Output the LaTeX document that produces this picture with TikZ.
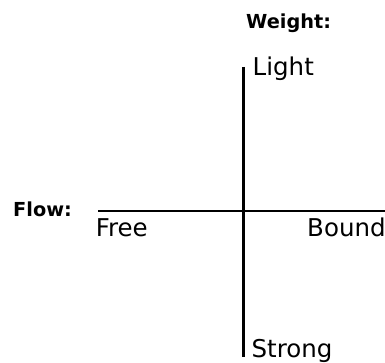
\documentclass[tikz,border=0pt]{standalone}
\usepackage{fontspec}
\setmainfont{DejaVu Sans}
\begin{document}
\begin{tikzpicture}[x=1pt,y=1pt,
  axis/.style={line width=2.2pt,black},
  label/.style={inner sep=0pt,anchor=base west,font=\fontsize{24.5}{29}\selectfont},
  title/.style={inner sep=0pt,anchor=base west,font=\fontsize{19.3}{23}\selectfont\bfseries}]
\useasboundingbox (0,0) rectangle (385,362);
% axis end points
\coordinate (flowL) at (98,151);
\coordinate (flowR) at (386,151);
\coordinate (wTop) at (243.5,295);
\coordinate (wBot) at (243.5,5.5);
\draw[axis] (flowL) -- (flowR);
\draw[axis] (wTop) -- (wBot);
% axis titles
\node[title] (flow) at (13,146) {Flow:};
\node[title] (weight) at (246,333.5) {Weight:};
% axis end labels
\node[label] (free) at (95.6,125.5) {Free};
\node[label] (bound) at (307,125.5) {Bound};
\node[label] (light) at (252.5,286.3) {Light};
\node[label] (strong) at (251.4,5) {Strong};
\end{tikzpicture}
\end{document}
